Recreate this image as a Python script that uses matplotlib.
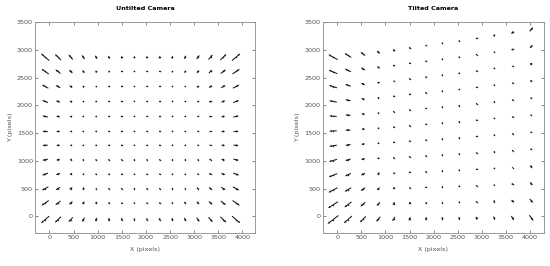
import numpy as np
import matplotlib
matplotlib.use("Agg")
import matplotlib.pyplot as plt

# ---- untilted camera: regular grid (pixels) ----
ut_x = [-90, 175, 440, 700, 965, 1230, 1495, 1760, 2020, 2285, 2550, 2815, 3080, 3340, 3605, 3870]
ut_y = [-60, 240, 500, 760, 1020, 1280, 1530, 1800, 2070, 2340, 2610, 2870]

# distortion vectors, rows bottom -> top
ut_u = [
    [-145, -106, -75, -51, -34, -21, -11, -3, 3, 11, 21, 34, 51, 75, 106, 145],
    [-128, -90, -61, -41, -25, -15, -7, -2, 2, 7, 15, 25, 41, 61, 90, 128],
    [-114, -79, -52, -33, -19, -10, -5, -1, 1, 5, 10, 19, 33, 52, 79, 114],
    [-104, -70, -44, -27, -14, -7, -3, -1, 1, 3, 7, 14, 27, 44, 70, 104],
    [-98, -64, -40, -23, -11, -5, -1, 0, 0, 1, 5, 11, 23, 40, 64, 98],
    [-94, -61, -37, -21, -10, -4, -1, 0, 0, 1, 4, 10, 21, 37, 61, 94],
    [-94, -61, -37, -21, -10, -4, -1, 0, 0, 1, 4, 10, 21, 37, 61, 94],
    [-98, -64, -40, -23, -11, -5, -1, 0, 0, 1, 5, 11, 23, 40, 64, 98],
    [-104, -70, -44, -27, -14, -7, -3, -1, 1, 3, 7, 14, 27, 44, 70, 104],
    [-114, -79, -52, -33, -19, -10, -5, -1, 1, 5, 10, 19, 33, 52, 79, 114],
    [-128, -90, -61, -41, -25, -15, -7, -2, 2, 7, 15, 25, 41, 61, 90, 128],
    [-145, -106, -75, -51, -34, -21, -11, -3, 3, 11, 21, 34, 51, 75, 106, 145],
]
ut_v = [
    [-108, -90, -75, -63, -53, -46, -41, -38, -38, -41, -46, -53, -63, -75, -90, -108],
    [-76, -62, -50, -40, -32, -26, -22, -20, -20, -22, -26, -32, -40, -50, -62, -76],
    [-53, -42, -33, -25, -19, -14, -11, -10, -10, -11, -14, -19, -25, -33, -42, -53],
    [-34, -26, -20, -15, -10, -7, -5, -3, -3, -5, -7, -10, -15, -20, -26, -34],
    [-19, -15, -11, -7, -5, -3, -1, -1, -1, -1, -3, -5, -7, -11, -15, -19],
    [-6, -4, -3, -2, -1, -1, 0, 0, 0, 0, -1, -1, -2, -3, -4, -6],
    [6, 4, 3, 2, 1, 1, 0, 0, 0, 0, 1, 1, 2, 3, 4, 6],
    [19, 15, 11, 7, 5, 3, 1, 1, 1, 1, 3, 5, 7, 11, 15, 19],
    [34, 26, 20, 15, 10, 7, 5, 3, 3, 5, 7, 10, 15, 20, 26, 34],
    [53, 42, 33, 25, 19, 14, 11, 10, 10, 11, 14, 19, 25, 33, 42, 53],
    [76, 62, 50, 40, 32, 26, 22, 20, 20, 22, 26, 32, 40, 50, 62, 76],
    [108, 90, 75, 63, 53, 46, 41, 38, 38, 41, 46, 53, 63, 75, 90, 108],
]

# ---- tilted camera: perspective grid (columns vertical, rows fan out) ----
tl_x = [-90, 220, 530, 850, 1170, 1500, 1840, 2180, 2530, 2890, 3260, 3640, 4030]
tl_y = [
    [-60, -58, -55, -53, -50, -48, -45, -43, -40, -38, -35, -33, -30],
    [206, 211, 216, 221, 227, 233, 239, 245, 251, 257, 265, 271, 279],
    [473, 480, 488, 495, 504, 513, 523, 532, 542, 553, 565, 576, 588],
    [739, 749, 759, 769, 780, 794, 807, 820, 833, 848, 865, 880, 897],
    [1006, 1018, 1031, 1043, 1057, 1075, 1091, 1107, 1124, 1143, 1165, 1185, 1206],
    [1272, 1287, 1302, 1317, 1334, 1356, 1376, 1395, 1415, 1439, 1465, 1489, 1516],
    [1538, 1555, 1573, 1590, 1611, 1636, 1660, 1682, 1705, 1734, 1765, 1793, 1825],
    [1805, 1824, 1845, 1864, 1888, 1917, 1944, 1970, 1996, 2029, 2065, 2098, 2134],
    [2071, 2093, 2116, 2138, 2164, 2198, 2228, 2257, 2287, 2324, 2365, 2402, 2443],
    [2338, 2362, 2388, 2412, 2441, 2478, 2512, 2545, 2578, 2620, 2665, 2707, 2752],
    [2604, 2631, 2659, 2686, 2718, 2759, 2796, 2832, 2869, 2915, 2965, 3011, 3061],
    [2870, 2900, 2930, 2960, 2995, 3040, 3080, 3120, 3160, 3210, 3265, 3315, 3370],
]
tl_u = [
    [-192, -143, -103, -72, -48, -30, -17, -7, 2, 12, 25, 45, 74],
    [-175, -127, -90, -61, -39, -23, -12, -5, 1, 9, 19, 35, 61],
    [-161, -114, -79, -51, -31, -18, -9, -3, 1, 6, 14, 27, 50],
    [-149, -104, -70, -44, -25, -13, -6, -2, 1, 4, 10, 21, 42],
    [-141, -97, -64, -38, -21, -10, -4, -1, 0, 2, 7, 17, 36],
    [-135, -92, -59, -35, -18, -8, -2, 0, 0, 1, 5, 14, 33],
    [-132, -90, -57, -33, -17, -7, -2, 0, 0, 1, 4, 14, 32],
    [-133, -90, -58, -33, -17, -7, -2, 0, 0, 1, 5, 15, 33],
    [-136, -93, -60, -36, -19, -9, -3, -1, 0, 2, 7, 17, 37],
    [-142, -98, -65, -40, -23, -12, -5, -2, 0, 3, 10, 22, 43],
    [-151, -106, -72, -46, -28, -15, -8, -3, 1, 6, 14, 28, 52],
    [-163, -117, -82, -54, -34, -21, -11, -4, 1, 8, 19, 36, 63],
]
tl_v = [
    [-129, -110, -93, -78, -65, -56, -49, -45, -45, -49, -56, -69, -86],
    [-99, -83, -68, -55, -45, -36, -30, -27, -27, -29, -35, -45, -59],
    [-74, -60, -49, -38, -29, -22, -17, -14, -14, -16, -20, -28, -39],
    [-53, -43, -33, -25, -18, -13, -9, -6, -6, -7, -11, -16, -24],
    [-36, -28, -21, -15, -10, -7, -4, -2, -2, -3, -5, -8, -14],
    [-20, -15, -11, -8, -5, -3, -1, 0, 0, -1, -2, -4, -6],
    [-6, -4, -3, -2, -1, 0, 0, 0, 0, 0, 0, 0, 0],
    [8, 7, 5, 4, 3, 2, 1, 0, 0, 1, 2, 4, 7],
    [22, 18, 14, 10, 7, 5, 3, 2, 1, 2, 5, 9, 15],
    [38, 31, 24, 18, 13, 9, 7, 5, 5, 7, 11, 17, 26],
    [57, 46, 37, 29, 22, 17, 14, 12, 12, 15, 20, 29, 42],
    [78, 65, 54, 43, 35, 29, 25, 23, 23, 27, 35, 47, 63],
]

x_ticks = [0, 500, 1000, 1500, 2000, 2500, 3000, 3500, 4000]
y_ticks = [0, 500, 1000, 1500, 2000, 2500, 3000, 3500]

FS = 4.6
GREY = "#555555"


def vector_panel(ax, X, Y, U, V, title, xlim):
    # small dark mark at every grid point (visible where the vector is tiny)
    ax.scatter(X.ravel(), Y.ravel(), s=1.2, color="#333333", lw=0, zorder=2)
    ax.quiver(X, Y, U, V, angles="xy", scale_units="xy", scale=0.85,
              pivot="middle", color="#111111", width=0.0046,
              headwidth=2.2, headlength=2.6, headaxislength=2.4,
              minlength=1.5, zorder=3)
    ax.set_xlim(*xlim)
    ax.set_ylim(-300, 3500)
    ax.set_xticks(x_ticks)
    ax.set_yticks(y_ticks)
    ax.tick_params(direction="in", length=2, width=0.5, colors=GREY,
                   labelsize=FS, top=True, right=True, pad=1.5)
    for s in ax.spines.values():
        s.set_color("#8a8a8a")
        s.set_linewidth(0.6)
    ax.set_xlabel("X (pixels)", fontsize=FS, color=GREY, labelpad=5)
    ax.set_ylabel("Y (pixels)", fontsize=FS, color=GREY, labelpad=3)
    ax.set_title(title, fontsize=FS, fontweight="bold", pad=9)


fig = plt.figure(figsize=(5.5, 2.66), dpi=100)
ax1 = fig.add_axes([0.0636, 0.124, 0.400, 0.793])
ax2 = fig.add_axes([0.587, 0.124, 0.402, 0.793])

X1, Y1 = np.meshgrid(ut_x, ut_y)
vector_panel(ax1, X1, Y1, np.array(ut_u), np.array(ut_v), "Untilted Camera", (-300, 4260))

X2 = np.tile(tl_x, (len(tl_y), 1))
vector_panel(ax2, X2, np.array(tl_y), np.array(tl_u), np.array(tl_v), "Tilted Camera", (-300, 4290))

fig.savefig("out.png", dpi=100)
